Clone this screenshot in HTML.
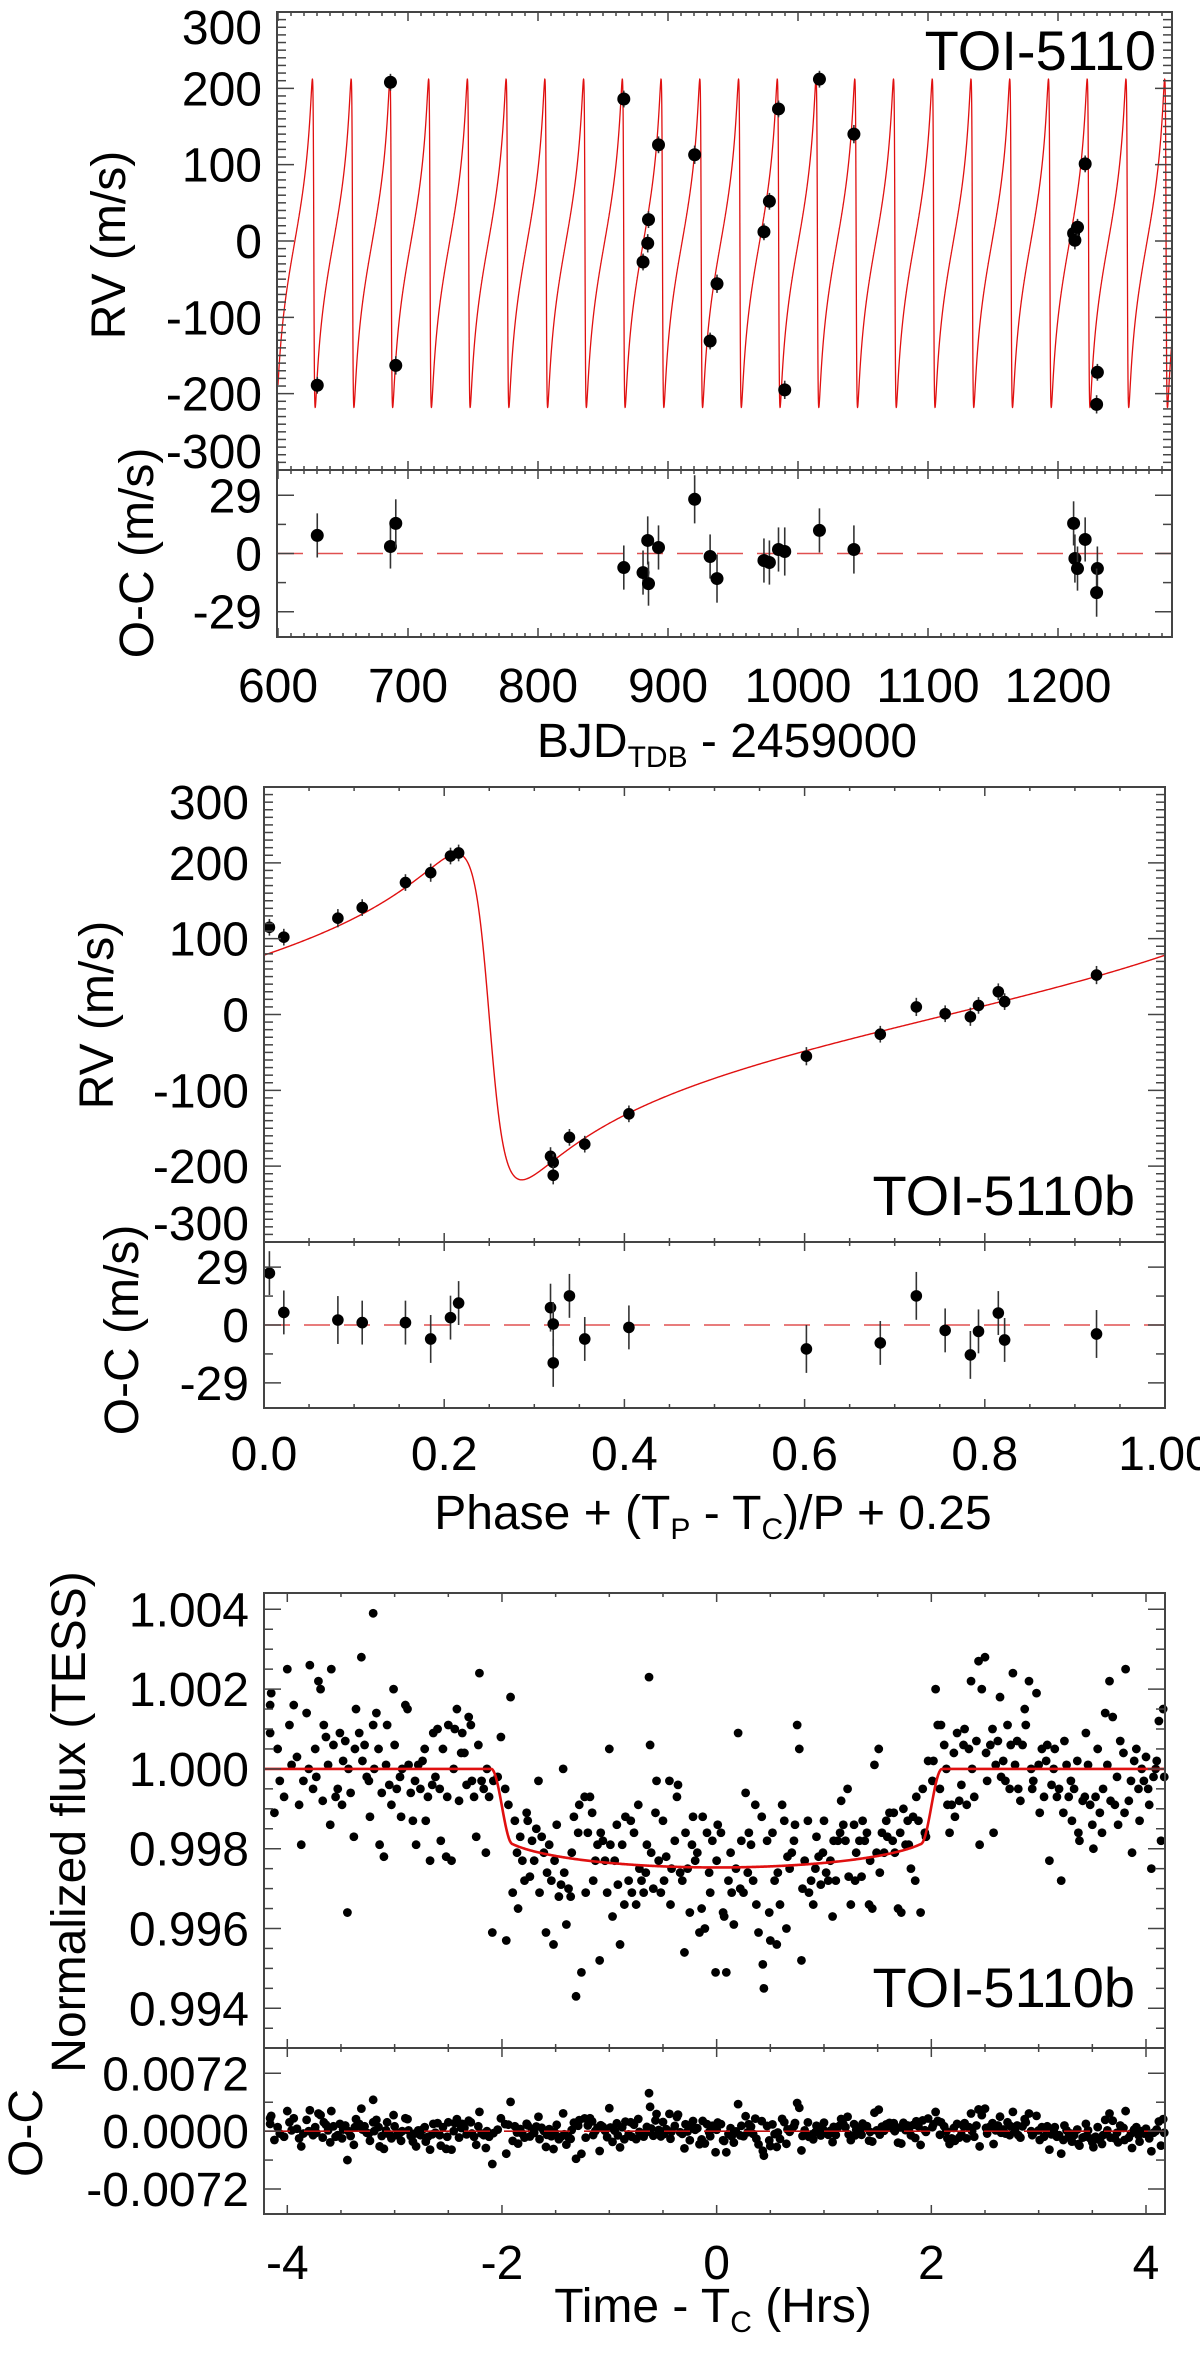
<!DOCTYPE html>
<html><head><meta charset="utf-8"><title>TOI-5110 RV and transit</title>
<style>
html,body{margin:0;padding:0;background:#fff;}
svg{display:block;font-family:"Liberation Sans",Arial,sans-serif;}
</style></head>
<body>
<svg id="fig" width="1200" height="2354" viewBox="0 0 1200 2354" xmlns="http://www.w3.org/2000/svg"></svg>
<script>
// ---------- Panel 1: RV time series ----------
const bjd = [630.2,686.5,690.6,866,880.8,884.4,885,892.7,920.5,932.4,937.7,973.8,978,985,989.8,1016.5,1043,1212,1213,1215,1220.9,1230.3,1229.7];
const rvTime = [-189,208,-163,186,-27.5,-3,28,126,113,-131,-56,12,52,173,-195,212,140,10,1,18,101,-172,-214];
const ocTime = [9,3.5,15,-7,-9.5,6.5,-15,3,27,-1.5,-12.5,-3.5,-4.5,2,1,11.5,2,15,-2.5,-7.5,7,-7.5,-19.5];
const rvErr = [11,11,12,11,11,12,11,11,12,11,12,11,11,11,12,11,12,11,12,11,11,11,12];
const xTicks1 = [600,700,800,900,1000,1100,1200];
const rvTicks = [300,200,100,0,-100,-200,-300];
const ocTicks = [29,0,-29];
// ---------- Panel 2: phased RV ----------
const phase = [0.006,0.022,0.082,0.109,0.157,0.185,0.207,0.216,0.318,0.321,0.321,0.339,0.356,0.405,0.602,0.684,0.724,0.756,0.784,0.793,0.815,0.822,0.924];
const rvPhase = [115,102,127,141,174,187,209,213,-187,-195,-212,-162,-171,-131,-55,-26,10,1,-3,12,30,17,52];
const ocPhase = [26,6.3,2.5,1.2,1.2,-7,3.7,11,8.7,0.5,-19,14.6,-7,-1.2,-12,-9,14.6,-2.7,-15,-3.2,6,-7.5,-4.5];
const xTicks2 = [0,0.2,0.4,0.6,0.8,1.0];
const xTickLabels2 = ["0.0","0.2","0.4","0.6","0.8","1.00"];
// orbit parameters (model)
const orbP = 29.8, orbTp = 627.54, orbK = 215, orbE = 0.75, orbGamma = -3;
// ---------- Panel 3: transit ----------
const tHrs = [-4.16,-4.16,-4.15,-4.12,-4.09,-4.07,-4.03,-4.00,-3.98,-3.96,-3.94,-3.91,-3.89,-3.87,-3.85,-3.82,-3.80,-3.79,-3.76,-3.74,-3.73,-3.71,-3.69,-3.67,-3.66,-3.64,-3.62,-3.60,-3.59,-3.57,-3.55,-3.53,-3.51,-3.49,-3.48,-3.46,-3.44,-3.43,-3.41,-3.38,-3.37,-3.36,-3.33,-3.31,-3.30,-3.28,-3.26,-3.24,-3.23,-3.20,-3.20,-3.19,-3.17,-3.15,-3.14,-3.12,-3.10,-3.08,-3.07,-3.05,-3.03,-3.01,-3.00,-2.98,-2.95,-2.94,-2.93,-2.90,-2.88,-2.87,-2.85,-2.83,-2.81,-2.80,-2.78,-2.76,-2.74,-2.72,-2.71,-2.69,-2.67,-2.65,-2.64,-2.62,-2.60,-2.58,-2.57,-2.55,-2.52,-2.51,-2.50,-2.47,-2.45,-2.44,-2.42,-2.40,-2.38,-2.37,-2.35,-2.33,-2.31,-2.29,-2.28,-2.26,-2.24,-2.22,-2.21,-2.19,-2.17,-2.15,-2.14,-2.12,-2.09,-2.08,
-2.04,-2.01,-1.97,-1.96,-1.94,-1.92,-1.90,-1.88,-1.86,-1.85,-1.83,-1.81,-1.79,-1.77,-1.76,-1.74,-1.72,-1.70,-1.68,-1.66,-1.65,-1.63,-1.61,-1.59,-1.58,-1.56,-1.54,-1.52,-1.51,-1.49,-1.47,-1.45,-1.43,-1.42,-1.40,-1.38,-1.36,-1.35,-1.33,-1.31,-1.29,-1.28,-1.26,-1.23,-1.22,-1.20,-1.18,-1.16,-1.15,-1.13,-1.11,-1.09,-1.08,-1.06,-1.04,-1.02,-1.00,-0.99,-0.97,-0.95,-0.93,-0.92,-0.90,-0.88,-0.86,-0.85,-0.82,-0.80,-0.79,-0.77,-0.75,-0.73,-0.72,-0.70,-0.68,-0.66,-0.65,-0.63,-0.62,-0.61,-0.59,-0.57,-0.56,-0.54,-0.52,-0.50,-0.49,-0.47,-0.44,-0.43,-0.42,-0.39,-0.37,-0.36,-0.34,-0.32,-0.30,-0.29,-0.27,-0.25,-0.23,-0.22,-0.20,-0.18,-0.16,-0.14,-0.13,-0.11,-0.09,-0.07,-0.06,-0.04,-0.01,0.00,0.01,0.04,0.06,0.07,0.09,0.11,0.13,0.14,0.16,0.18,0.20,0.22,0.23,0.25,0.27,0.29,0.30,0.32,0.34,0.36,0.37,0.39,0.42,0.43,0.44,0.47,0.49,0.50,0.52,0.54,0.56,0.57,0.59,0.61,0.63,0.65,0.66,0.68,0.70,0.72,0.73,0.75,0.77,0.79,0.80,0.82,0.85,0.86,0.88,0.90,0.92,0.93,0.95,0.97,0.99,1.00,1.02,1.04,1.06,1.08,1.09,1.11,1.13,1.15,1.16,1.18,1.20,1.22,1.23,1.25,1.28,1.29,1.30,1.33,1.35,1.36,1.38,1.40,1.42,1.43,1.45,1.47,1.49,1.51,1.52,1.54,1.56,1.58,1.59,1.61,1.64,1.65,1.66,1.69,1.71,1.72,1.74,1.76,1.78,1.79,1.81,1.83,1.85,1.86,1.88,1.90,1.92,1.94,1.95,1.97,
2.01,2.02,2.04,2.06,2.08,2.09,2.12,2.14,2.15,2.17,2.19,2.21,2.22,2.24,2.26,2.28,2.30,2.31,2.33,2.35,2.37,2.38,2.40,2.42,2.44,2.45,2.47,2.50,2.51,2.52,2.55,2.57,2.58,2.60,2.62,2.64,2.65,2.67,2.69,2.71,2.73,2.74,2.76,2.78,2.80,2.81,2.83,2.85,2.87,2.88,2.91,2.93,2.94,2.95,2.98,3.00,3.01,3.03,3.05,3.07,3.08,3.10,3.12,3.14,3.15,3.17,3.19,3.21,3.23,3.24,3.26,3.28,3.30,3.31,3.33,3.36,3.37,3.38,3.41,3.43,3.44,3.46,3.48,3.50,3.51,3.53,3.55,3.57,3.59,3.60,3.62,3.64,3.66,3.67,3.69,3.71,3.73,3.74,3.76,3.79,3.80,3.81,3.84,3.86,3.87,3.89,3.91,3.93,3.94,3.96,3.98,4.00,4.02,4.03,4.05,4.07,4.09,4.10,4.12,4.14,4.16,4.17];
const fluxPpt = [0.9,1.6,1.9,-1.1,0.5,-0.3,-0.7,2.5,1.1,0.1,1.6,0.3,-0.9,-1.9,-0.3,1.4,0.0,2.6,-0.5,0.5,-0.2,2.2,2.0,-0.8,1.1,0.8,0.1,-1.4,2.5,0.6,-0.7,-0.5,0.9,-0.9,0.2,0.7,-3.6,0.0,-0.6,-1.7,0.5,1.5,0.9,2.8,0.2,0.6,-0.2,-0.3,-1.2,1.1,3.9,0.0,1.4,0.5,-1.9,-0.6,-2.2,0.1,1.1,-0.4,-0.9,2.0,0.6,-0.5,-0.2,-1.2,0.0,1.6,1.5,0.1,-0.6,-1.3,-0.3,-1.9,0.1,-0.5,0.2,0.5,-1.3,-0.7,-2.3,-0.4,0.9,-0.2,1.0,-0.5,-1.8,0.5,-2.2,-0.7,1.1,-2.3,0.0,1.0,1.5,-0.8,0.4,0.9,0.4,-0.4,1.3,1.1,-0.3,-0.7,-1.7,0.6,2.4,-0.3,-0.5,-2.1,0.0,-0.7,-4.1,-0.3,
-0.2,0.8,-0.5,-4.3,-0.9,1.8,-3.1,-1.3,-2.1,-3.5,-1.7,-2.3,-2.8,-1.1,-1.3,-2.7,-1.8,-2.3,-1.5,-0.3,-3.1,-1.7,-2.1,-4.1,-2.6,-1.9,-2.8,-4.4,-2.3,-1.4,-3.2,-2.9,0.0,-2.6,-3.9,-3.0,-3.2,-2.1,-1.2,-5.7,-1.6,-0.9,-5.1,-0.7,-3.1,-1.6,-0.7,-1.1,-2.8,-2.3,-1.9,-4.8,-1.6,-1.8,-2.3,-3.1,0.5,-1.9,-3.7,-2.3,-1.4,-2.9,-4.4,-1.9,-3.4,-1.2,-2.8,-1.3,-3.1,-1.6,-3.4,-0.9,-2.5,-2.8,-3.1,-2.6,-1.9,2.3,0.6,-2.1,-3.0,-1.1,-0.3,-2.3,-3.1,-1.3,-2.8,-2.2,-0.3,-3.4,-2.5,-1.8,-0.7,-0.4,-2.6,-2.8,-4.6,-1.6,-2.5,-3.6,-1.9,-1.2,-2.3,-2.1,-4.1,-3.5,-1.2,-4.0,-1.6,-2.6,-3.1,-1.8,-5.1,-2.3,-1.4,-1.6,-3.6,-3.7,-5.1,-2.8,-2.1,-3.1,-3.9,-2.5,0.9,-3.0,-1.8,-3.1,-0.6,-2.6,-1.6,-1.9,-2.8,-0.9,-3.4,-4.1,-1.2,-4.9,-5.5,-1.8,-3.6,-4.3,-1.6,-2.8,-4.4,-2.6,-3.4,-0.9,-1.3,-4.0,-2.2,-2.5,-2.1,-1.8,-1.4,1.1,0.5,-4.8,-3.0,-2.3,-1.3,-3.1,-2.8,-3.4,-2.5,-1.7,-2.2,-2.9,-2.1,-1.3,-2.6,-2.8,-2.3,-3.7,-1.8,-2.8,-1.8,-1.6,-0.8,-1.4,-1.8,-0.5,-2.7,-3.4,-1.4,-2.8,-2.1,-1.8,-2.7,-1.3,-1.8,-1.6,-3.4,-2.3,-3.5,0.1,-2.1,0.5,-2.6,-1.6,-2.1,-1.3,-1.7,-1.1,-1.8,-1.1,-2.1,-3.5,-1.6,-3.6,-1.0,-1.9,-1.3,-1.9,-2.5,-1.2,-2.8,-0.7,-1.3,-3.6,-0.5,-1.6,-1.7,0.2,
-0.3,0.2,2.0,1.1,-0.5,1.1,0.6,0.0,-0.9,-1.6,-0.9,0.4,-1.2,0.9,-0.8,-0.4,0.6,1.0,-0.9,0.5,2.2,0.0,-0.7,0.7,2.7,-1.9,2.0,2.8,0.4,-0.3,0.6,1.0,-1.6,0.1,0.7,1.8,-0.2,0.2,-0.3,1.1,-0.5,0.6,2.4,0.1,0.7,-0.5,-0.8,0.6,1.5,1.1,2.2,0.0,-0.5,-0.3,1.9,0.1,-1.1,0.5,-0.7,0.2,0.6,-2.3,-0.4,0.0,0.5,-0.7,-0.5,-2.8,-1.1,0.7,0.1,-0.7,-0.3,-1.3,-0.5,0.2,-1.6,-1.8,-0.8,-0.7,0.9,0.1,-0.9,-1.4,-2.0,-0.7,0.5,-1.1,-1.6,-0.5,1.4,0.1,2.2,-0.8,1.3,-0.9,-0.2,-1.4,0.7,0.4,-1.1,2.5,-0.8,-0.3,-2.1,0.2,0.5,-0.5,-1.3,0.0,-0.3,0.3,-0.5,-0.9,-2.5,-0.2,0.0,0.2,1.2,-1.8,1.5,-0.2];
const xTicks3 = [-4,-2,0,2,4];
const fluxTicks = [1.004,1.002,1.000,0.998,0.996,0.994];
const ocFluxTicks = [0.0072,0,-0.0072];
const ocFluxLabels = ["0.0072","0.0000","-0.0072"];
// transit model parameters
const trDepthEdge = 1.62, trDepthCurve = 0.85, trT4 = 2.1, trT2 = 1.9;

const svg = document.getElementById('fig');
const NS = 'http://www.w3.org/2000/svg';
function mk(tag, attrs, parent){
  const e = document.createElementNS(NS, tag);
  for (const k in attrs) e.setAttribute(k, attrs[k]);
  (parent || svg).appendChild(e);
  return e;
}
function lin(d0,d1,p0,p1){ return v => p0 + (v-d0)*(p1-p0)/(d1-d0); }
const AX = '#444', FS = 48;

function ticksAxis(g, L,R,T,B, sx, sy, xr, xMaj, xMin, yr, yMaj, yMin){
  const eps = 1e-9;
  for (let k = Math.ceil(xr[0]/xMin - eps); k*xMin <= xr[1]+eps; k++){
    const v = k*xMin, x = sx(v);
    const major = Math.abs(v/xMaj - Math.round(v/xMaj)) < 1e-6;
    const len = major ? 9 : 4;
    const t1 = mk('line',{x1:x,y1:T,x2:x,y2:T+len,stroke:AX,'stroke-width':1.5},g);
    
    
    const t2 = mk('line',{x1:x,y1:B,x2:x,y2:B-len,stroke:AX,'stroke-width':1.5},g);
    
    
  }
  for (let k = Math.ceil(yr[0]/yMin - eps); k*yMin <= yr[1]+eps; k++){
    const v = k*yMin, y = sy(v);
    const major = Math.abs(v/yMaj - Math.round(v/yMaj)) < 1e-6;
    const len = major ? 17 : 9;
    const t1 = mk('line',{x1:L,y1:y,x2:L+len,y2:y,stroke:AX,'stroke-width':1.5},g);
    
    
    const t2 = mk('line',{x1:R,y1:y,x2:R-len,y2:y,stroke:AX,'stroke-width':1.5},g);
    
    
  }
  const fr = mk('rect',{x:L,y:T,width:R-L,height:B-T,fill:'none',stroke:AX,'stroke-width':2},g);
  
  
}
function yLabels(g, vals, texts, L, T, B, sy){
  vals.forEach((v,i)=>{
    let c = sy(v);
    if (c < T+15) c = T+15;
    if (c > B-19) c = B-19;
    const t = mk('text',{x:L-15,y:c+17,'text-anchor':'end','font-size':FS,fill:'#000'},g);
    t.textContent = texts[i];
    
    
  });
}
function xLabels(g, vals, texts, yc, sx){
  vals.forEach((v,i)=>{
    const t = mk('text',{x:sx(v),y:yc+17,'text-anchor':'middle','font-size':FS,fill:'#000'},g);
    t.textContent = texts[i];
    
    
  });
}
function vTitle(g, text, cx, cy, name){
  const t = mk('text',{x:0,y:0,'text-anchor':'middle','font-size':FS,fill:'#000',
    transform:`translate(${cx+17},${cy}) rotate(-90)`},g);
  t.textContent = text;
  
  
  return t;
}
function dashedZero(g, L, R, y, color, w){
  const d = mk('line',{x1:L,y1:y,x2:R,y2:y,stroke:color,'stroke-width':w,'stroke-dasharray':'26,14'},g);
  
  
}
function errPoint(g, x, y, yTop, yBot, r, name){
  const l = mk('line',{x1:x,y1:yTop,x2:x,y2:yBot,stroke:'#333','stroke-width':1.6},g);
  
  
  const c = mk('circle',{cx:x,cy:y,r:r,fill:'#000'},g);
  
  
}
function kepler(M){
  let E = M;
  for (let i=0;i<60;i++){ E = E - (E - orbE*Math.sin(E) - M)/(1 - orbE*Math.cos(E)); }
  return E;
}
function rvModel(frac){
  const M = 2*Math.PI*frac;
  const E = kepler(Math.atan2(Math.sin(M),Math.cos(M)));
  const nu = 2*Math.atan(Math.sqrt((1+orbE)/(1-orbE))*Math.tan(E/2));
  return orbGamma - orbK*Math.sin(nu);
}
function transitModel(t){
  const a = Math.abs(t);
  if (a >= trT4) return 0;
  const inner = Math.min(a, trT2);
  const full = -(trDepthEdge + trDepthCurve*Math.sqrt(Math.max(0,1-(inner/2.0)**2)));
  if (a <= trT2) return full;
  const f = (trT4 - a)/(trT4 - trT2);
  return full * (0.5 - 0.5*Math.cos(Math.PI*f));
}

// ================= PANEL 1 =================
(function(){
  const g = mk('g',{});
  
  
  const L=277,R=1172,T=12,Bm=470,Bo=637;
  const xr=[600,600+(R-278)/1.3];
  const sx = lin(600,1200,278,1058);
  const sy = lin(-300,300,Bm,T);
  const so = lin(-41.6,41.6,Bo,Bm);
  let d='';
  for (let t=xr[0]; t<=xr[1]; t+=0.05){
    d += (d?'L':'M') + sx(t).toFixed(2) + ' ' + sy(rvModel((t-orbTp)/orbP)).toFixed(2);
  }
  const clip = mk('clipPath',{id:'clip1'},g);
  mk('rect',{x:L,y:T,width:R-L,height:Bm-T},clip);
  const m = mk('path',{d:d,fill:'none',stroke:'#e01010','stroke-width':1.3,'clip-path':'url(#clip1)'},g);
  
  
  bjd.forEach((t,i)=>{
    errPoint(g, sx(t), sy(rvTime[i]), sy(rvTime[i]+rvErr[i]), sy(rvTime[i]-rvErr[i]), 6.5, 'rv-point');
  });
  dashedZero(g, L, R, so(0), '#e05050', 1.6);
  bjd.forEach((t,i)=>{
    errPoint(g, sx(t), so(ocTime[i]), so(ocTime[i]+rvErr[i]), so(ocTime[i]-rvErr[i]), 6.5, 'residual-point');
  });
  ticksAxis(g,L,R,T,Bm,sx,sy,xr,100,10,[-300,300],100,10);
  ticksAxis(g,L,R,Bm,Bo,sx,so,xr,100,10,[-41.6,41.6],29,14.5);
  yLabels(g, rvTicks, rvTicks.map(String), L, T, Bm, sy);
  yLabels(g, ocTicks, ocTicks.map(String), L, Bm-100, Bo+100, so);
  xLabels(g, xTicks1, xTicks1.map(String), 685, sx);
  vTitle(g,'RV (m/s)',108,245,'rv-axis-title');
  vTitle(g,'O-C (m/s)',136,553,'oc-axis-title');
  const lab = mk('text',{x:1156,y:70,'text-anchor':'end','font-size':56,fill:'#000'},g);
  lab.textContent='TOI-5110';
  
  
  const xt = mk('text',{x:727,y:757,'text-anchor':'middle','font-size':FS,fill:'#000'},g);
  
  
  const s1 = mk('tspan',{},xt); s1.textContent='BJD';
  const s2 = mk('tspan',{'font-size':30,dy:10},xt); s2.textContent='TDB';
  const s3 = mk('tspan',{dy:-10},xt); s3.textContent=' - 2459000';
})();

// ================= PANEL 2 =================
(function(){
  const g = mk('g',{});
  
  
  const L=264,R=1165,T=787,Bm=1242,Bo=1408;
  const sx = lin(0,1,L,R);
  const sy = lin(-300,300,Bm,T);
  const so = lin(-41.6,41.6,Bo,Bm);
  let d='';
  for (let p=0; p<=1.0005; p+=0.001){
    d += (d?'L':'M') + sx(p).toFixed(2) + ' ' + sy(rvModel(p-0.25)).toFixed(2);
  }
  const m = mk('path',{d:d,fill:'none',stroke:'#e01010','stroke-width':1.4},g);
  
  
  phase.forEach((p,i)=>{
    errPoint(g, sx(p), sy(rvPhase[i]), sy(rvPhase[i]+rvErr[i]), sy(rvPhase[i]-rvErr[i]), 5.8, 'rv-phase-point');
  });
  dashedZero(g, L, R, so(0), '#e05050', 1.6);
  phase.forEach((p,i)=>{
    errPoint(g, sx(p), so(ocPhase[i]), so(ocPhase[i]+rvErr[i]), so(ocPhase[i]-rvErr[i]), 5.8, 'residual-phase-point');
  });
  ticksAxis(g,L,R,T,Bm,sx,sy,[0,1],0.2,0.05,[-300,300],100,10);
  ticksAxis(g,L,R,Bm,Bo,sx,so,[0,1],0.2,0.05,[-41.6,41.6],29,14.5);
  yLabels(g, rvTicks, rvTicks.map(String), L, T, Bm, sy);
  yLabels(g, ocTicks, ocTicks.map(String), L, Bm-100, Bo+100, so);
  xLabels(g, xTicks2, xTickLabels2, 1453, sx);
  vTitle(g,'RV (m/s)',96,1015,'rv-axis-title');
  vTitle(g,'O-C (m/s)',121,1330,'oc-axis-title');
  const lab = mk('text',{x:1135,y:1215,'text-anchor':'end','font-size':56,fill:'#000'},g);
  lab.textContent='TOI-5110b';
  
  
  const xt = mk('text',{x:713,y:1529,'text-anchor':'middle','font-size':FS,fill:'#000'},g);
  
  
  const a = mk('tspan',{},xt); a.textContent='Phase + (T';
  const b = mk('tspan',{'font-size':30,dy:10},xt); b.textContent='P';
  const c = mk('tspan',{dy:-10},xt); c.textContent=' - T';
  const e = mk('tspan',{'font-size':30,dy:10},xt); e.textContent='C';
  const f = mk('tspan',{dy:-10},xt); f.textContent=')/P + 0.25';
})();

// ================= PANEL 3 =================
(function(){
  const g = mk('g',{});
  
  
  const L=264,R=1165,T=1593,Bm=2048,Bo=2214;
  const sx = lin(-4,4,287.3,1146);
  const xr = [-4 - (287.3-L)/107.34, 4 + (R-1146)/107.34];
  const sy = lin(0.994,1.004,2008.3,1609.3);
  const yr = [0.99301,1.00442];
  const so = lin(-0.0072,0.0072,2189,2073.3);
  const orr = [-0.01023,0.01038];
  fluxPpt.forEach((v,i)=>{
    const c = mk('circle',{cx:sx(tHrs[i]),cy:sy(1+v*0.001),r:4.4,fill:'#000'},g);
    
    
  });
  let d='';
  for (let t=xr[0]; t<=xr[1]; t+=0.01){
    d += (d?'L':'M') + sx(t).toFixed(2) + ' ' + sy(1+transitModel(t)*0.001).toFixed(2);
  }
  const m = mk('path',{d:d,fill:'none',stroke:'#e01010','stroke-width':2.6},g);
  
  
  fluxPpt.forEach((v,i)=>{
    const r = (v - transitModel(tHrs[i]))*0.001;
    const c = mk('circle',{cx:sx(tHrs[i]),cy:so(r),r:4.4,fill:'#000'},g);
    
    
  });
  dashedZero(g, L, R, so(0), '#c01010', 1.6);
  ticksAxis(g,L,R,T,Bm,sx,sy,xr,2,0.5,yr,0.002,0.0005);
  ticksAxis(g,L,R,Bm,Bo,sx,so,xr,2,0.5,orr,0.0072,0.0036);
  yLabels(g, fluxTicks, fluxTicks.map(v=>v.toFixed(3)), L, T-50, Bm+50, sy);
  yLabels(g, ocFluxTicks, ocFluxLabels, L, Bm-100, Bo+100, so);
  xLabels(g, xTicks3, xTicks3.map(String), 2262, sx);
  vTitle(g,'Normalized flux (TESS)',68,1822,'flux-axis-title');
  vTitle(g,'O-C',25,2133,'oc-axis-title');
  const lab = mk('text',{x:1135,y:2007,'text-anchor':'end','font-size':56,fill:'#000'},g);
  lab.textContent='TOI-5110b';
  
  
  const xt = mk('text',{x:713,y:2322,'text-anchor':'middle','font-size':FS,fill:'#000'},g);
  
  
  const a = mk('tspan',{},xt); a.textContent='Time - T';
  const b = mk('tspan',{'font-size':30,dy:10},xt); b.textContent='C';
  const c = mk('tspan',{dy:-10},xt); c.textContent=' (Hrs)';
})();
</script>
</body></html>
